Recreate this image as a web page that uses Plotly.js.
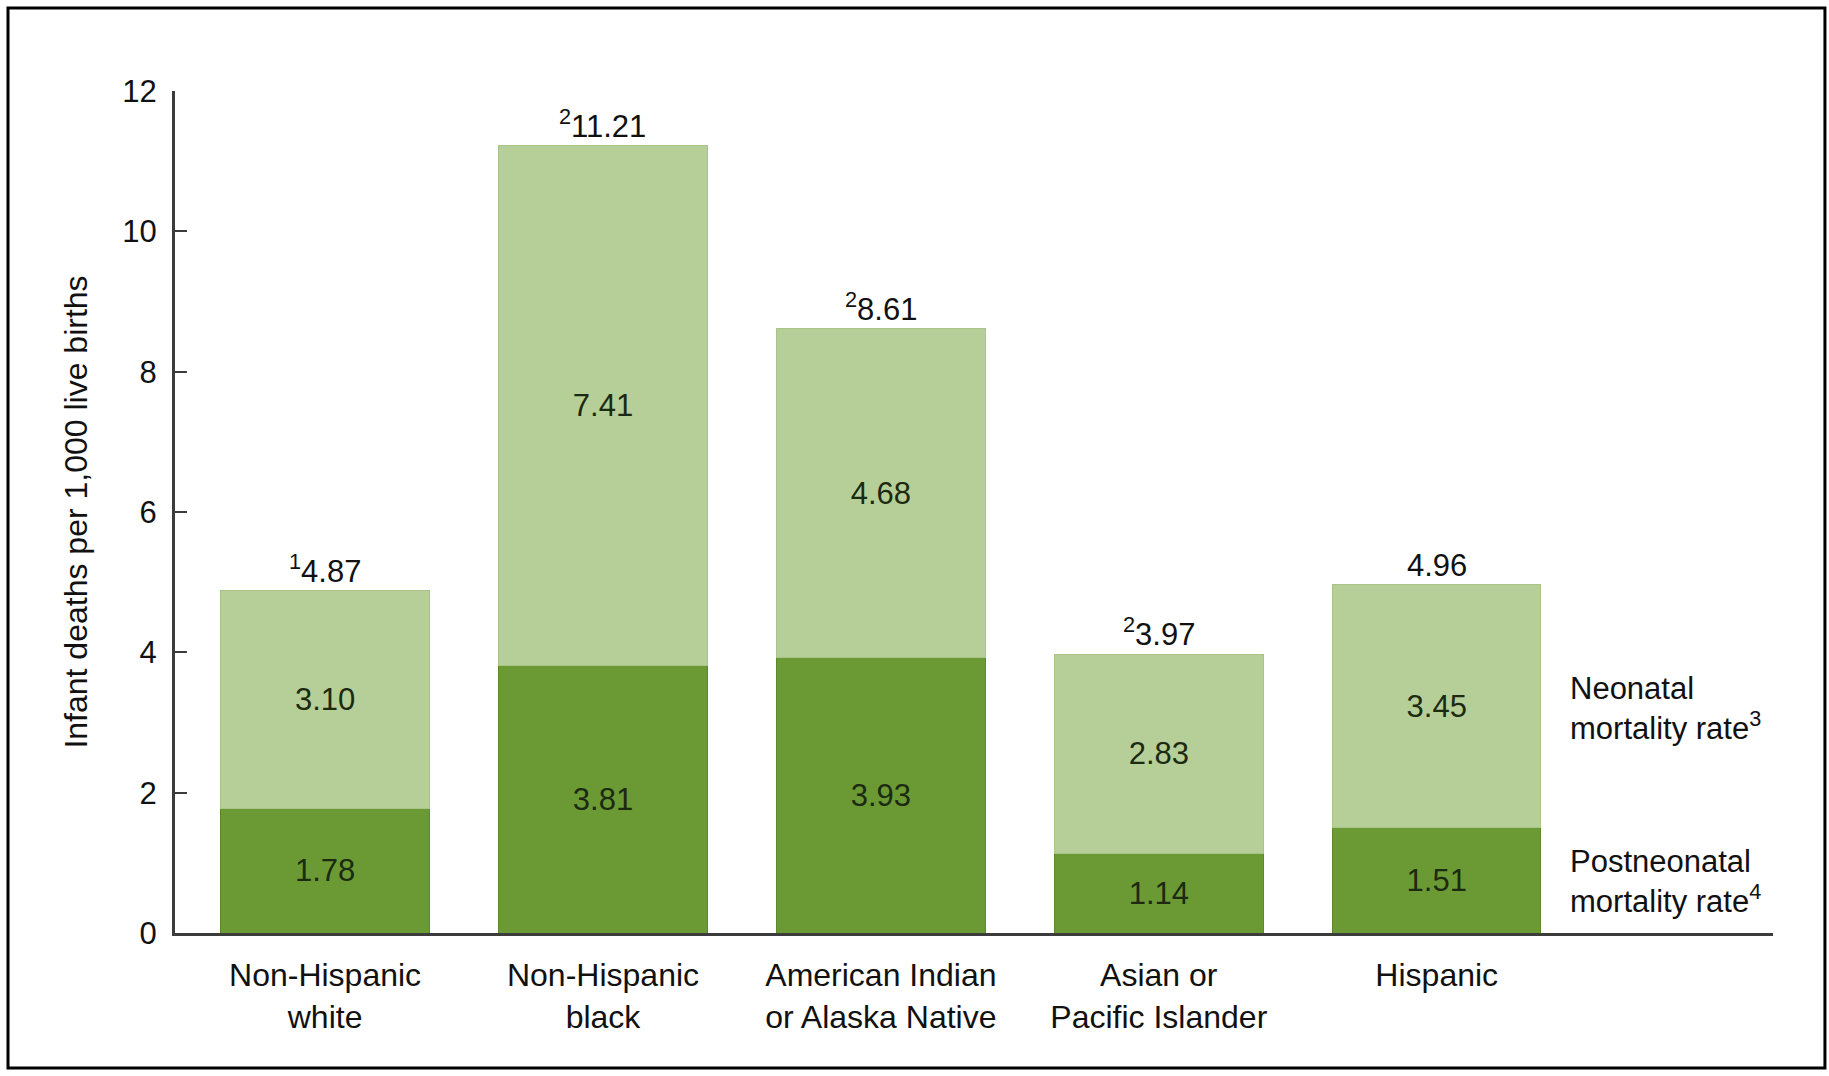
<!DOCTYPE html>
<html>
<head>
<meta charset="utf-8">
<script src="https://cdn.plot.ly/plotly-3.0.1.min.js"></script>
<style>html,body{margin:0;padding:0;background:#fff;}#chart{width:1829px;height:1076px;}</style>
</head>
<body>
<div id="chart"></div>
<script>
// Data
const categories = ["Non-Hispanic<br>white", "Non-Hispanic<br>black", "American Indian<br>or Alaska Native", "Asian or<br>Pacific Islander", "Hispanic"];
const postneonatal = [1.78, 3.81, 3.93, 1.14, 1.51];
const neonatal = [3.10, 7.41, 4.68, 2.83, 3.45];
const totals = [4.87, 11.21, 8.61, 3.97, 4.96];
const totalNotes = ["1", "2", "2", "2", ""];
const seriesLabels = ["Neonatal<br>mortality rate<sup>3</sup>", "Postneonatal<br>mortality rate<sup>4</sup>"];
const yTicks = [0, 2, 4, 6, 8, 10, 12];

const FONT = "Liberation Sans, Arial, sans-serif";
const FS = 31;
const xIdx = categories.map((_, i) => i);

const traces = [
  {
    type: "bar", x: xIdx, y: postneonatal, name: "Postneonatal",
    marker: {color: "#6b9a35", line: {color: "#5a8a2a", width: 1}},
    width: 0.75,
    text: postneonatal.map(v => v.toFixed(2)), textposition: "inside", insidetextanchor: "middle",
    textfont: {family: FONT, size: FS, color: "#1b2a10"}, constraintext: "none",
    hoverinfo: "skip"
  },
  {
    type: "bar", x: xIdx, y: neonatal, name: "Neonatal",
    marker: {color: "#b6cf98", line: {color: "#a8c488", width: 1}},
    width: 0.75,
    text: neonatal.map(v => v.toFixed(2)), textposition: "inside", insidetextanchor: "middle",
    textfont: {family: FONT, size: FS, color: "#1b2a10"}, constraintext: "none",
    hoverinfo: "skip"
  }
];

const annotations = totals.map((t, i) => ({
  x: i, y: t, xref: "x", yref: "y", yanchor: "bottom", showarrow: false, yshift: 0,
  text: (totalNotes[i] ? "<sup style='font-size:60%'>" + totalNotes[i] + "</sup>" : "") + t.toFixed(2),
  font: {family: FONT, size: FS, color: "#111"}
}));
annotations.push({
  x: 0.872, xref: "paper", y: 3.2, yref: "y", xanchor: "left", yanchor: "middle", align: "left",
  showarrow: false, text: seriesLabels[0], font: {family: FONT, size: FS, color: "#111"}
});
annotations.push({
  x: 0.872, xref: "paper", y: 0.74, yref: "y", xanchor: "left", yanchor: "middle", align: "left",
  showarrow: false, text: seriesLabels[1], font: {family: FONT, size: FS, color: "#111"}
});

const layout = {
  width: 1829, height: 1076,
  margin: {l: 175, r: 56, t: 91, b: 143},
  paper_bgcolor: "#fff", plot_bgcolor: "#fff",
  barmode: "stack", showlegend: false,
  font: {family: FONT, size: FS, color: "#111"},
  xaxis: {
    range: [-0.54, 5.21], tickvals: xIdx, ticktext: categories,
    showgrid: false, zeroline: false, showline: true, linecolor: "#3c3c3c", linewidth: 3,
    ticks: "", ticklabelstandoff: 12, tickfont: {family: FONT, size: 32, color: "#111"}, fixedrange: true
  },
  yaxis: {
    range: [0, 12], tickvals: yTicks, ticktext: yTicks.map(String),
    showgrid: false, zeroline: false, showline: true, linecolor: "#3c3c3c", linewidth: 3,
    ticks: "inside", ticklen: 12, tickwidth: 2, tickcolor: "#3c3c3c", ticklabelstandoff: 9,
    tickfont: {family: FONT, size: FS, color: "#111"},
    title: {text: "Infant deaths per 1,000 live births", font: {family: FONT, size: 32, color: "#111"}, standoff: 26},
    fixedrange: true
  },
  annotations: annotations,
  shapes: [{
    type: "rect", xref: "paper", yref: "paper",
    x0: -0.1045, x1: 1.0325, y0: -0.1603, y1: 1.0986,
    line: {color: "#000", width: 3}, fillcolor: "rgba(0,0,0,0)"
  }]
};

Plotly.newPlot("chart", traces, layout, {staticPlot: true, displayModeBar: false});
</script>
</body>
</html>
